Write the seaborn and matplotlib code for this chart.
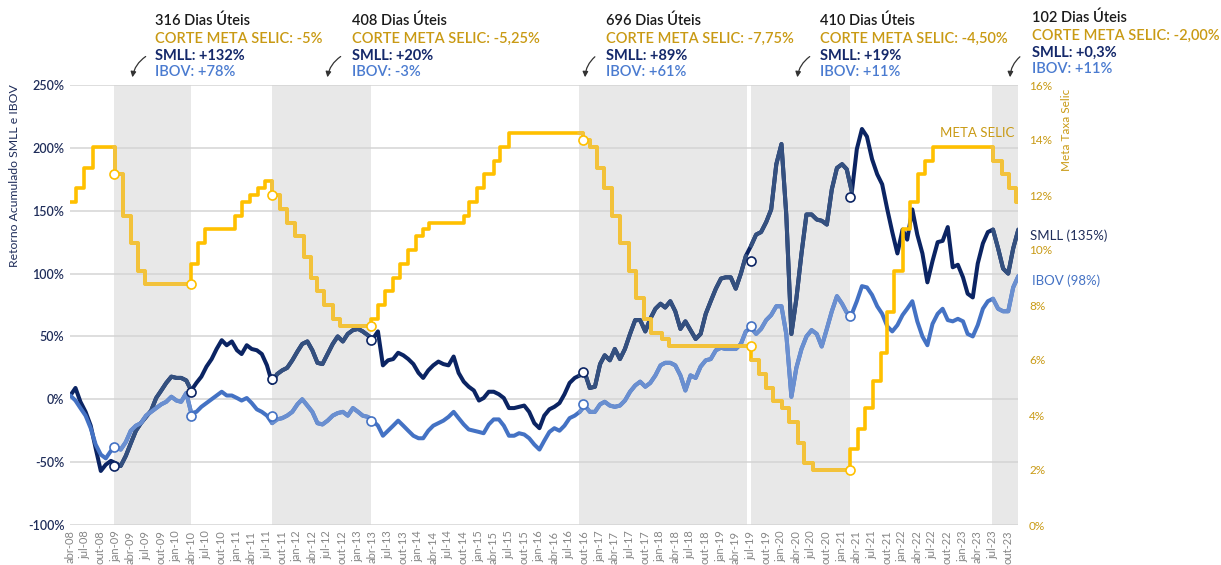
import matplotlib
matplotlib.use("Agg")
import matplotlib.pyplot as plt
import seaborn as sns
import pandas as pd

# accumulated return (%), month-end values, Apr-08 .. Dec-23
smll = [3, 9, -2, -10, -21, -39, -57, -52, -49, -51,
        -53, -45, -35, -25, -19, -14, -9, 1, 7, 13,
        18, 17, 17, 15, 7, 13, 18, 26, 32, 40,
        47, 43, 46, 39, 36, 43, 40, 39, 36, 27,
        13, 20, 23, 25, 31, 38, 44, 46, 39, 29,
        28, 36, 44, 50, 46, 52, 55, 56, 54, 51,
        48, 54, 27, 31, 32, 37, 35, 32, 28, 21,
        17, 23, 27, 30, 28, 27, 34, 21, 14, 10,
        7, -1, 1, 6, 6, 4, 1, -7, -7, -6,
        -5, -10, -19, -23, -13, -8, -6, -3, 4, 13,
        17, 19, 21, 9, 10, 28, 35, 31, 40, 32,
        40, 52, 63, 63, 54, 64, 72, 76, 73, 78,
        70, 56, 62, 55, 48, 52, 68, 78, 88, 96,
        97, 97, 88, 100, 114, 122, 131, 133, 141, 151,
        187, 203, 147, 52, 80, 116, 147, 147, 143, 142,
        139, 167, 184, 187, 183, 165, 199, 215, 209, 191,
        179, 171, 151, 133, 116, 135, 127, 151, 131, 116,
        93, 110, 125, 126, 137, 105, 107, 97, 84, 81,
        108, 124, 133, 135, 120, 104, 100, 120, 135]
ibov = [3, -1, -7, -13, -23, -36, -44, -47, -41, -38,
        -40, -34, -25, -21, -19, -13, -10, -7, -4, -2,
        2, -1, -2, 5, -11, -10, -6, -3, 0, 3,
        6, 3, 3, 1, -1, 1, -3, -8, -10, -13,
        -19, -16, -15, -13, -10, -4, 0, -5, -10, -19,
        -20, -17, -13, -11, -10, -13, -7, -10, -13, -14,
        -17, -21, -29, -25, -21, -17, -21, -25, -29, -31,
        -31, -25, -21, -19, -17, -14, -10, -15, -20, -24,
        -25, -26, -27, -20, -16, -16, -21, -29, -29, -27,
        -28, -31, -36, -40, -33, -26, -23, -25, -21, -15,
        -13, -10, -5, -10, -10, -4, -2, -5, -6, -5,
        -1, 6, 11, 14, 10, 13, 19, 27, 29, 29,
        27, 19, 7, 19, 17, 26, 31, 32, 39, 41,
        40, 40, 40, 44, 54, 57, 52, 56, 63, 67,
        74, 74, 52, 2, 25, 40, 50, 55, 52, 42,
        56, 70, 82, 76, 69, 68, 78, 90, 89, 83,
        74, 68, 58, 54, 59, 67, 72, 78, 62, 50,
        43, 60, 68, 72, 63, 62, 64, 62, 52, 50,
        59, 72, 78, 80, 72, 70, 70, 89, 98]

# meta Selic (%), change dates
selic_dates = ["2008-04-28", "2008-06-05", "2008-07-24", "2008-09-11", "2009-01-22",
               "2009-03-12", "2009-04-30", "2009-06-11", "2009-07-23", "2010-04-29",
               "2010-06-10", "2010-07-22", "2011-01-20", "2011-03-03", "2011-04-21",
               "2011-06-09", "2011-07-21", "2011-09-01", "2011-10-20", "2011-12-01",
               "2012-01-19", "2012-03-08", "2012-04-19", "2012-05-31", "2012-07-12",
               "2012-08-30", "2012-10-11", "2013-04-18", "2013-05-30", "2013-07-11",
               "2013-08-29", "2013-10-10", "2013-11-28", "2014-01-16", "2014-02-27",
               "2014-04-03", "2014-10-30", "2014-12-04", "2015-01-22", "2015-03-05",
               "2015-04-30", "2015-06-04", "2015-07-30", "2016-10-20", "2016-12-01",
               "2017-01-12", "2017-02-23", "2017-04-13", "2017-06-01", "2017-07-27",
               "2017-09-07", "2017-10-26", "2017-12-07", "2018-02-08", "2018-03-22",
               "2019-08-01", "2019-09-19", "2019-10-31", "2019-12-12", "2020-02-06",
               "2020-03-19", "2020-05-07", "2020-06-18", "2020-08-06", "2021-03-18",
               "2021-05-06", "2021-06-17", "2021-08-05", "2021-09-23", "2021-10-28",
               "2021-12-09", "2022-02-03", "2022-03-17", "2022-05-05", "2022-06-16",
               "2022-08-04", "2023-08-03", "2023-09-21", "2023-11-02", "2023-12-14",
               "2023-12-29"]
selic_rates = [11.75, 12.25, 13.00, 13.75, 12.75,
               11.25, 10.25, 9.25, 8.75, 9.50,
               10.25, 10.75, 11.25, 11.75, 12.00,
               12.25, 12.50, 12.00, 11.50, 11.00,
               10.50, 9.75, 9.00, 8.50, 8.00,
               7.50, 7.25, 7.50, 8.00, 8.50,
               9.00, 9.50, 10.00, 10.50, 10.75,
               11.00, 11.25, 11.75, 12.25, 12.75,
               13.25, 13.75, 14.25, 14.00, 13.75,
               13.00, 12.25, 11.25, 10.25, 9.25,
               8.25, 7.50, 7.00, 6.75, 6.50,
               6.00, 5.50, 5.00, 4.50, 4.25,
               3.75, 3.00, 2.25, 2.00, 2.75,
               3.50, 4.25, 5.25, 6.25, 7.75,
               9.25, 10.75, 11.75, 12.75, 13.25,
               13.75, 13.25, 12.75, 12.25, 11.75,
               11.75]

# easing cycles (shaded)
band_start = ["2009-01-21", "2011-08-31", "2016-09-26", "2019-08-03", "2023-07-28"]
band_end = ["2010-04-28", "2013-04-17", "2019-07-10", "2021-03-17", "2023-12-29"]

mark_dates = ["2009-01-21", "2010-04-28", "2011-08-31", "2013-04-17",
              "2016-10-19", "2019-07-31", "2021-03-17"]
mark_smll = [-53, 6, 16, 47, 22, 110, 161]
mark_ibov = [-38, -13, -13, -17, -4, 58, 66]
mark_selic = [12.75, 8.75, 12.0, 7.25, 14.0, 6.5, 2.0]

notes_days = ["316 Dias Úteis", "408 Dias Úteis", "696 Dias Úteis", "410 Dias Úteis", "102 Dias Úteis"]
notes_cut = ["CORTE META SELIC: -5%", "CORTE META SELIC: -5,25%", "CORTE META SELIC: -7,75%",
             "CORTE META SELIC: -4,50%", "CORTE META SELIC: -2,00%"]
notes_smll = ["SMLL: +132%", "SMLL: +20%", "SMLL: +89%", "SMLL: +19%", "SMLL: +0,3%"]
notes_ibov = ["IBOV: +78%", "IBOV: -3%", "IBOV: +61%", "IBOV: +11%", "IBOV: +11%"]

NAVY = "#0b2463"
NAVY_L = "#34507f"
BLUE = "#4472c4"
BLUE_L = "#6a8fd0"
GOLD = "#ffc000"
GOLD_L = "#f2c23c"
GOLD_TXT = "#c99a14"
GRAY_BAND = "#e8e8e8"

sns.set_style("white")
plt.rcParams["font.family"] = ["Lato", "DejaVu Sans"]

W, H = 1221, 565
def fx(p):
    return p / W
def fy(p):
    return 1 - p / H

df = pd.DataFrame({"date": pd.date_range("2008-04-30", periods=len(smll), freq="ME"),
                   "SMLL": smll, "IBOV": ibov})
sel = pd.DataFrame({"date": pd.to_datetime(selic_dates), "rate": selic_rates})
bands = list(zip(pd.to_datetime(band_start), pd.to_datetime(band_end)))
mk = pd.DataFrame({"date": pd.to_datetime(mark_dates), "SMLL": mark_smll,
                   "IBOV": mark_ibov, "Selic": mark_selic})

fig = plt.figure(figsize=(W / 100, H / 100), dpi=100)
ax = fig.add_axes([fx(70), 1 - 525 / H, (1018 - 70) / W, 440 / H])
ax2 = ax.twinx()

for s, e in bands:
    ax.axvspan(s, e, color=GRAY_BAND, zorder=0, lw=0)

ax.set_axisbelow(True)
ax.grid(axis="y", color="#d4d4d4", lw=1.1)
ax.grid(axis="x", visible=False)

lw = 2.9
for col, c0, c1 in [("SMLL", NAVY, NAVY_L), ("IBOV", BLUE, BLUE_L)]:
    sns.lineplot(data=df, x="date", y=col, color=c0, lw=lw, ax=ax, estimator=None)
    for s, e in bands:
        seg = df[(df["date"] >= s - pd.Timedelta(days=15)) & (df["date"] <= e + pd.Timedelta(days=15))]
        sns.lineplot(data=seg, x="date", y=col, color=c1, lw=lw, ax=ax, estimator=None)

sns.lineplot(data=sel, x="date", y="rate", color=GOLD, lw=2.6, ax=ax2,
             estimator=None, drawstyle="steps-post")
rate_s = sel.set_index("date")["rate"]
for s, e in bands:
    inside = rate_s[(rate_s.index > s) & (rate_s.index < e)]
    seg = pd.concat([pd.Series([rate_s[:s].iloc[-1]], index=[s]), inside,
                     pd.Series([rate_s[:e].iloc[-1]], index=[e])])
    segdf = pd.DataFrame({"date": seg.index, "rate": seg.values})
    sns.lineplot(data=segdf, x="date", y="rate", color=GOLD_L, lw=2.6, ax=ax2,
                 estimator=None, drawstyle="steps-post")

ms = 6.5
ax.plot(mk["date"], mk["SMLL"], "o", ms=ms, mfc="white", mec=NAVY, mew=1.2, zorder=5)
ax.plot(mk["date"], mk["IBOV"], "o", ms=ms, mfc="white", mec=BLUE, mew=1.2, zorder=5)
ax2.plot(mk["date"], mk["Selic"], "o", ms=ms, mfc="white", mec=GOLD, mew=1.2, zorder=5)

ax.set_xlim(pd.Timestamp("2008-04-28"), pd.Timestamp("2023-12-29"))
ax.set_ylim(-100, 250)
ax2.set_ylim(0, 16)

yt = list(range(-100, 251, 50))
ax.set_yticks(yt)
ax.set_yticklabels([f"{v}%" for v in yt], color="#1f2d5a", fontsize=9, fontweight="semibold")
rt = list(range(0, 17, 2))
ax2.set_yticks(rt)
ax2.set_yticklabels([f"{v}%" for v in rt], color=GOLD_TXT, fontsize=8.5)

mnames = {1: "jan", 4: "abr", 7: "jul", 10: "out"}
xt = [d + pd.Timedelta(days=27) for d in pd.date_range("2008-04-01", "2023-10-01", freq="3MS")]
ax.set_xticks(xt)
ax.set_xticklabels([f"{mnames[d.month]}-{d.strftime('%y')}" for d in xt],
                   rotation=90, color="#858585", fontsize=8)
ax.tick_params(axis="both", length=0, pad=4)
ax2.tick_params(axis="y", length=0, pad=8)
ax.set_xlabel("")
ax.set_ylabel("")
ax2.set_ylabel("")
for a in (ax, ax2):
    for sp in a.spines.values():
        sp.set_visible(False)

fig.text(fx(15), fy(176), "Retorno Acumulado SMLL e IBOV", rotation=90, color="#1f2d5a",
         fontsize=8.8, ha="center", va="center")
fig.text(fx(1067), fy(130), "Meta Taxa Selic", rotation=90, color=GOLD_TXT,
         fontsize=8.5, ha="center", va="center")
fig.text(fx(940), fy(133), "META SELIC", color=GOLD_TXT, fontsize=9.5, va="center")
fig.text(fx(1030), fy(236), "SMLL (135%)", color="#1f2d5a", fontsize=9.5, va="center")
fig.text(fx(1032), fy(281), "IBOV (98%)", color=BLUE, fontsize=9.5, va="center")

note_x = [155, 352, 606, 820, 1032]
note_y = [21, 21, 21, 21, 18]
arrow_from = [(148, 55), (343, 55), (597, 55), (812, 55), (1022, 55)]
arrow_to = [(132, 80), (327, 80), (585, 80), (797, 80), (1010, 80)]
for i in range(5):
    x, y = note_x[i], note_y[i]
    fig.text(fx(x), fy(y), notes_days[i], color="#1a1a1a", fontsize=10.5,
             fontweight="semibold", va="center")
    fig.text(fx(x), fy(y + 18), notes_cut[i], color=GOLD_TXT, fontsize=10.5,
             fontweight="semibold", va="center")
    fig.text(fx(x), fy(y + 35), notes_smll[i], color="#14286a", fontsize=10.5,
             fontweight="bold", va="center")
    fig.text(fx(x), fy(y + 51), notes_ibov[i], color="#4a7bd0", fontsize=10.5,
             fontweight="semibold", va="center")
    fig.patches.append(matplotlib.patches.FancyArrowPatch(
        (fx(arrow_from[i][0]), fy(arrow_from[i][1])), (fx(arrow_to[i][0]), fy(arrow_to[i][1])),
        transform=fig.transFigure, arrowstyle="-|>", mutation_scale=8,
        connectionstyle="arc3,rad=0.25", color="#333333", lw=0.9))

fig.savefig("out.png", dpi=100)
